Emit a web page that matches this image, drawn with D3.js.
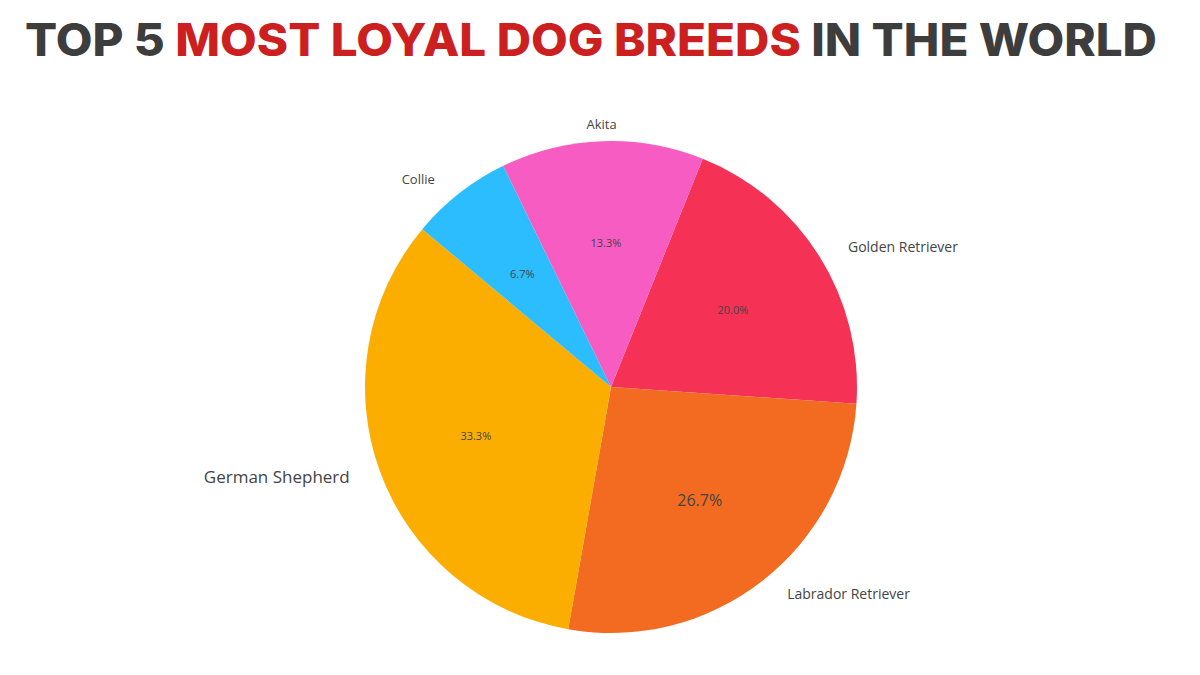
<!DOCTYPE html>
<html><head><meta charset="utf-8">
<script src="https://cdn.jsdelivr.net/npm/d3@7"></script>
<style>body{margin:0;background:#fff}</style></head>
<body><svg id="c" width="1200" height="675"></svg>
<script>
const breeds = ["Golden Retriever","Labrador Retriever","German Shepherd","Collie","Akita"];
const values = [20.0,26.7,33.3,6.7,13.3];
const colors = ["#F53255","#F26B21","#FBAE00","#2BBDFD","#F75CC2"];
const pctSize = [11,16,11,11,11];
const labSize = [14,14,17,13,13];

const svg = d3.select("#c");
const t = svg.append("text").attr("x",591).attr("y",56).attr("text-anchor","middle")
  .attr("font-family","Inter, Roboto, sans-serif").attr("font-weight",800).attr("font-size",45)
  .attr("textLength",1132).attr("lengthAdjust","spacingAndGlyphs");
t.append("tspan").attr("fill","#3d3d3d").text("TOP 5 ");
t.append("tspan").attr("fill","#cc1f1f").text("MOST LOYAL DOG BREEDS");
t.append("tspan").attr("fill","#3d3d3d").text(" IN THE WORLD");

const cx=611, cy=387, r=246;
const start = 21.9*Math.PI/180;
const pie = d3.pie().sort(null).startAngle(start).endAngle(start+2*Math.PI)(values);
const arc = d3.arc().innerRadius(0).outerRadius(r);
const g = svg.append("g").attr("transform",`translate(${cx},${cy})`);
g.selectAll("path").data(pie).join("path").attr("d",arc).attr("fill",(d,i)=>colors[i]);
const inner = d3.arc().innerRadius(r*0.585).outerRadius(r*0.585);
g.selectAll("text.p").data(pie).join("text").attr("class","p")
  .attr("transform",d=>`translate(${inner.centroid(d)})`).attr("text-anchor","middle").attr("dy","0.35em")
  .attr("font-family","Open Sans, sans-serif").attr("font-size",(d,i)=>pctSize[i]).attr("fill","#444")
  .text(d=>d.data.toFixed(1)+"%");
const outer = d3.arc().innerRadius(r*1.07).outerRadius(r*1.07);
const side = d=>{const m=(d.startAngle+d.endAngle)/2;const s=Math.sin(m);return Math.abs(s)<0.2?0:(s>0?1:-1);};
g.selectAll("text.l").data(pie).join("text").attr("class","l")
  .attr("transform",d=>{const c=outer.centroid(d);return `translate(${c[0]+side(d)*14},${c[1]})`;})
  .attr("text-anchor",d=>["middle","start","end"][side(d)<0?2:side(d)])
  .attr("dy","0.35em").attr("font-family","Open Sans, sans-serif").attr("font-size",(d,i)=>labSize[i]).attr("fill","#444")
  .text((d,i)=>breeds[i]);
</script></body></html>
